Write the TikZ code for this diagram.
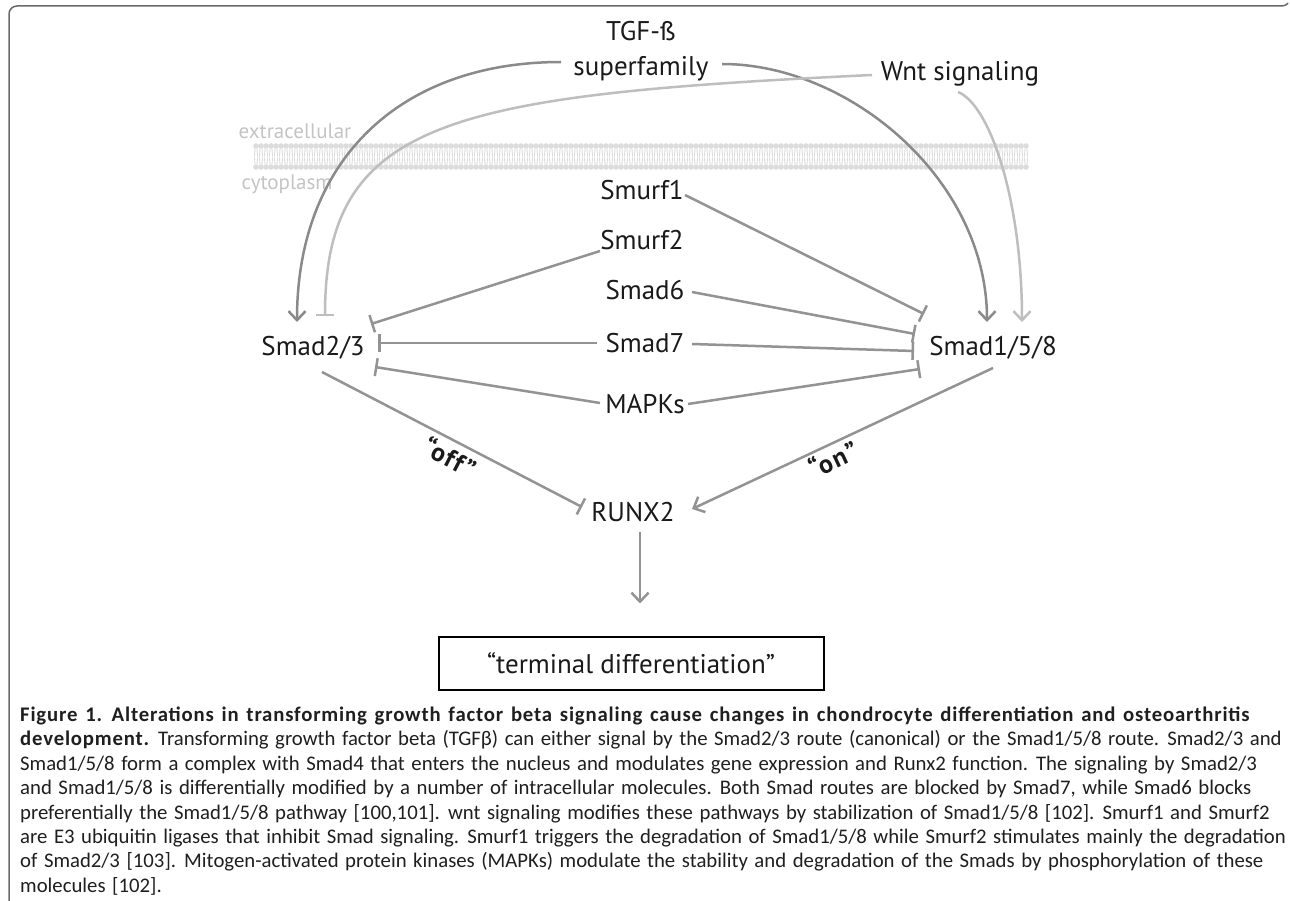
\documentclass[tikz,border=0pt]{standalone}
\usepackage{fontspec}
\setmainfont{Carlito}[WordSpace=1.4, BoldFeatures={LetterSpace=4.0}]
\newfontfamily\diagfont{PT Sans}
\newfontfamily\quotefont{PT Sans}[LetterSpace=6]
\usetikzlibrary{arrows.meta,calc}
\definecolor{darkline}{HTML}{8A8A8A}
\definecolor{lightline}{HTML}{BEBEBE}
\definecolor{inhcol}{HTML}{939393}
\definecolor{membr}{HTML}{DCDCDC}
\definecolor{memtext}{HTML}{C4C4C4}
\definecolor{labtext}{HTML}{1A1A1A}
\definecolor{framecol}{HTML}{6A6A6A}
\tikzset{
  lab/.style={font=\diagfont\fontsize{27}{35}\selectfont, text=labtext, inner sep=0pt, align=center},
  memlab/.style={font=\diagfont\fontsize{21}{25}\selectfont, text=memtext, inner sep=0pt},
  qlab/.style={font=\quotefont\bfseries\fontsize{26}{28}\selectfont, text=labtext, inner sep=0pt},
  captxt/.style={font=\fontsize{20.75}{24}\selectfont, text=black!88, inner sep=0pt, anchor=base west},
  actline/.style={line width=2.5pt, -{Straight Barb[length=9pt,width=17pt]}},
  inhib/.style={line width=2.5pt, -{Bar[width=18pt]}},
}
\begin{document}
\begin{tikzpicture}[x=1pt,y=-1pt]
\useasboundingbox (0,0) rectangle (1290,901);
\fill[white] (0,0) rectangle (1290,901);
% frame
\draw[framecol, line width=1.5pt, rounded corners=8pt] (40,912) -- (9,912) -- (9,6) -- (1282,6);
\draw[framecol, line width=1.5pt] (1282,6) arc[start angle=90, end angle=40, radius=8];
% membrane
\foreach \i in {0,...,154}{
  \pgfmathsetmacro\xx{256+5*\i}
  \fill[membr] (\xx,146) circle (2.8);
  \fill[membr] (\xx,167) circle (2.8);
  \draw[membr, line width=0.9pt] (\xx-1,149) -- (\xx-1.6,156.5) (\xx+1,149) -- (\xx+1.6,156.5)
       (\xx-1,164) -- (\xx-1.6,157.5) (\xx+1,164) -- (\xx+1.6,157.5);
}
\node[memlab] (extra) at (295,131) {extracellular};
\node[memlab] (cyto) at (287,184) {cytoplasm};
% labels
\node[lab] (tgf) at (641,51) {TGF-ß\\superfamily};
\node[lab] (wnt) at (960,74) {Wnt signaling};
\node[lab] (smurf1) at (642,190) {Smurf1};
\node[lab] (smurf2) at (642,240) {Smurf2};
\node[lab] (smad6) at (645,290) {Smad6};
\node[lab] (smad7) at (645,343) {Smad7};
\node[lab] (mapks) at (645,404) {MAPKs};
\node[lab] (smad23) at (313,348) {Smad2/3};
\node[lab] (smad158) at (993,348) {Smad1/5/8};
\node[lab] (runx2) at (633,512) {RUNX2};
\node[lab, draw=black, line width=2pt, minimum width=385pt, minimum height=53pt] (term) at (631,663) {“terminal differentiation”};
\node[qlab, rotate=-27.4] (off) at (450,457) {“off”};
\node[qlab, rotate=25] (on) at (833,459) {“on”};
% curved connectors
\draw[actline, darkline] ($(tgf)+(-80,11)$) .. controls (400,62) and (297,160) .. ($(smad23)+(-16,-26)$);
\draw[actline, darkline] ($(tgf)+(81,13)$) .. controls (850,64) and (987,180) .. ($(smad158)+(-6,-26)$);
\draw[inhib, lightline] ($(wnt)+(-88,1)$) .. controls (450,95) and (325,120) .. ($(smad23)+(12,-32)$);
\draw[actline, lightline] ($(wnt)+(-2,18)$) .. controls (990,105) and (1022,200) .. ($(smad158)+(29,-26)$);
% inhibitors
\draw[inhib, inhcol] ($(smurf1)+(43,5)$) -- ($(smad158)+(-69,-34)$);
\draw[inhib, inhcol] ($(smad6)+(47,2)$) -- ($(smad158)+(-78,-14)$);
\draw[inhib, inhcol] ($(smad7)+(47,1)$) -- ($(smad158)+(-79,3)$);
\draw[inhib, inhcol] ($(mapks)+(43,0)$) -- ($(smad158)+(-73,21)$);
\draw[inhib, inhcol] ($(smurf2)+(-42,11)$) -- ($(smad23)+(58,-24)$);
\draw[inhib, inhcol] ($(smad7)+(-48,0)$) -- ($(smad23)+(65,-5)$);
\draw[inhib, inhcol] ($(mapks)+(-45,-1)$) -- ($(smad23)+(62,19)$);
% to RUNX2
\draw[inhib, inhcol] ($(smad23)+(9,24)$) -- ($(runx2)+(-51,-5)$);
\draw[actline, inhcol] ($(smad158)+(0,20)$) -- ($(runx2)+(59,-3)$);
\draw[actline, inhcol] ($(runx2)+(7,20)$) -- ($(term.north)+(9,-32)$);
% caption
\node[captxt] (c1) at (20,721) {\textbf{Figure 1. Alterations in transforming growth factor beta signaling cause changes in chondrocyte differentiation and osteoarthritis}};
\node[captxt] (c2) at (20,745) {\textbf{development.} Transforming growth factor beta (TGFβ) can either signal by the Smad2/3 route (canonical) or the Smad1/5/8 route. Smad2/3 and};
\node[captxt] (c3) at (20,770) {Smad1/5/8 form a complex with Smad4 that enters the nucleus and modulates gene expression and Runx2 function. The signaling by Smad2/3};
\node[captxt] (c4) at (20,794) {and Smad1/5/8 is differentially modified by a number of intracellular molecules. Both Smad routes are blocked by Smad7, while Smad6 blocks};
\node[captxt] (c5) at (20,819) {preferentially the Smad1/5/8 pathway [100,101]. wnt signaling modifies these pathways by stabilization of Smad1/5/8 [102]. Smurf1 and Smurf2};
\node[captxt] (c6) at (20,843) {are E3 ubiquitin ligases that inhibit Smad signaling. Smurf1 triggers the degradation of Smad1/5/8 while Smurf2 stimulates mainly the degradation};
\node[captxt] (c7) at (20,867) {of Smad2/3 [103]. Mitogen-activated protein kinases (MAPKs) modulate the stability and degradation of the Smads by phosphorylation of these};
\node[captxt] (c8) at (20,892) {molecules [102].};
\end{tikzpicture}
\end{document}
